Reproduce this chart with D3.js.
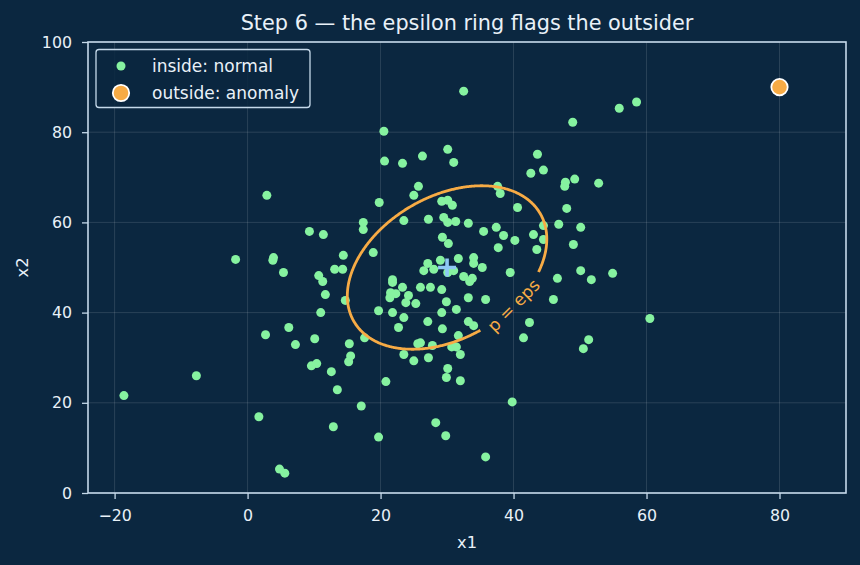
<!DOCTYPE html>
<html><head><meta charset="utf-8">
<script src="https://cdn.jsdelivr.net/npm/d3@7"></script>
<style>
html,body{margin:0;padding:0;background:#0b2740;}
svg{display:block;font-family:"DejaVu Sans",sans-serif;}
</style></head>
<body>
<svg id="chart" width="860" height="565"></svg>
<script>
// ---- data ----
const normalPoints = [[32.5,89.1],[58.5,86.7],[55.9,85.3],[48.9,82.2],[20.5,80.2],[30.1,76.2],[43.6,75.1],[26.3,74.7],[31.0,73.3],[20.6,73.6],[23.3,73.1],[44.5,71.6],[42.6,70.9],[49.2,69.6],[47.8,68.9],[47.7,68.0],[52.8,68.7],[25.7,68.0],[37.6,68.0],[38.0,66.4],[25.0,66.0],[2.9,66.0],[29.2,64.7],[30.1,64.9],[30.8,63.8],[19.8,64.4],[40.6,63.3],[48.0,63.1],[23.5,60.4],[27.2,60.7],[29.5,61.1],[30.1,60.0],[31.3,60.2],[33.2,59.8],[17.4,60.0],[17.4,58.4],[9.3,58.0],[11.4,57.3],[35.5,58.0],[37.4,58.9],[38.5,57.1],[40.2,56.0],[37.7,54.4],[43.0,57.3],[44.5,59.3],[46.8,59.6],[50.1,58.9],[44.5,56.2],[43.5,54.0],[49.0,55.1],[29.3,56.7],[30.2,55.3],[27.1,50.9],[28.0,49.6],[26.5,49.3],[29.0,51.6],[31.7,52.0],[34.0,52.2],[34.0,50.9],[35.3,50.0],[32.5,48.0],[33.8,47.6],[39.5,48.9],[46.6,47.6],[50.1,49.3],[51.7,47.3],[54.9,48.7],[-1.8,51.8],[3.9,52.2],[3.8,51.6],[5.4,48.9],[10.7,48.2],[11.3,46.9],[14.4,52.7],[18.9,53.3],[13.1,49.6],[14.3,49.6],[21.8,47.3],[30.1,48.9],[31.0,49.3],[33.4,46.9],[11.7,44.0],[14.7,42.7],[11.0,40.0],[6.2,36.7],[2.7,35.1],[7.2,32.9],[10.1,34.2],[15.3,33.1],[15.5,30.4],[15.2,29.1],[9.6,28.2],[10.4,28.7],[12.6,26.9],[13.5,22.9],[17.6,34.4],[21.8,46.7],[21.5,44.4],[21.4,43.3],[22.3,44.2],[23.3,45.6],[24.2,43.8],[23.8,42.2],[25.3,42.0],[19.7,40.4],[21.8,40.0],[23.5,38.9],[22.7,36.7],[26.0,45.6],[27.5,45.6],[29.2,45.1],[29.9,42.4],[27.1,38.0],[29.2,40.0],[31.4,40.7],[29.3,36.4],[33.2,43.3],[33.2,38.0],[34.0,37.1],[31.7,34.9],[30.7,32.4],[31.4,32.4],[32.0,30.7],[25.6,33.1],[26.0,33.3],[27.8,32.7],[23.5,30.7],[25.0,29.3],[27.2,30.0],[30.1,27.6],[29.9,25.6],[32.0,24.9],[20.8,24.7],[17.1,19.3],[12.9,14.7],[19.7,12.4],[1.7,16.9],[-7.7,26.0],[-18.6,21.6],[4.8,5.3],[5.6,4.4],[28.3,15.6],[29.8,12.7],[35.8,8.0],[39.8,20.2],[35.8,42.9],[46.0,42.9],[42.4,37.8],[41.5,34.4],[51.3,34.0],[50.5,32.0],[60.5,38.7]];
const anomalyPoint = [80, 90];
const meanPoint = [30, 50];
const ringCov = [[100, 42], [42, 146]];   // covariance of the fitted Gaussian
const ringRadius = 1.5;                   // Mahalanobis radius where p = eps
const ringLabelAt = [40.0, 41.6];
const xTicks = [-20, 0, 20, 40, 60, 80];
const yTicks = [0, 20, 40, 60, 80, 100];
const legendLabels = ["inside: normal", "outside: anomaly"];
const titleText = "Step 6 \u2014 the epsilon ring flags the outsider";

// ---- layout ----
const W = 860, H = 565;
const m = {left: 88, right: 14, top: 42, bottom: 72};
const BG = "#0b2740", FG = "#e9f1f8", SPINE = "#c5d9ea";
const GREEN = "#86f2a0", ORANGE = "#f7ab45", BLUE = "#8ec9f5";

const svg = d3.select("#chart");
svg.append("rect").attr("width", W).attr("height", H).attr("fill", BG);

const x = d3.scaleLinear().domain([-24, 90]).range([m.left, W - m.right]);
const y = d3.scaleLinear().domain([0, 100]).range([H - m.bottom, m.top]);

// grid
const grid = svg.append("g");
grid.selectAll("line.gx").data(xTicks).join("line")
  .attr("x1", d => x(d)).attr("x2", d => x(d))
  .attr("y1", y.range()[1]).attr("y2", y.range()[0])
  .attr("stroke", "#ffffff").attr("stroke-opacity", 0.16).attr("stroke-width", 0.8);
grid.selectAll("line.gy").data(yTicks).join("line")
  .attr("y1", d => y(d)).attr("y2", d => y(d))
  .attr("x1", x.range()[0]).attr("x2", x.range()[1])
  .attr("stroke", "#ffffff").attr("stroke-opacity", 0.16).attr("stroke-width", 0.8);

// axes
const xAxis = svg.append("g").attr("transform", `translate(0,${H - m.bottom})`)
  .call(d3.axisBottom(x).tickValues(xTicks).tickSize(6).tickPadding(11).tickFormat(d => d < 0 ? "\u2212" + Math.abs(d) : d));
const yAxis = svg.append("g").attr("transform", `translate(${m.left},0)`)
  .call(d3.axisLeft(y).tickValues(yTicks).tickSize(6).tickPadding(10));
[xAxis, yAxis].forEach(a => {
  a.select(".domain").remove();
  a.selectAll(".tick line").attr("stroke", SPINE).attr("stroke-width", 1.3);
  a.selectAll(".tick text").attr("fill", FG).attr("font-size", 15.8).attr("font-family", "DejaVu Sans");
});

// points
svg.append("g").selectAll("circle").data(normalPoints).join("circle")
  .attr("cx", d => x(d[0])).attr("cy", d => y(d[1])).attr("r", 4.5)
  .attr("fill", GREEN);

// epsilon ring
const a = ringCov[0][0] * ringRadius ** 2, b = ringCov[0][1] * ringRadius ** 2, dd = ringCov[1][1] * ringRadius ** 2;
const L00 = Math.sqrt(a), L10 = b / L00, L11 = Math.sqrt(dd - L10 * L10);
const ringPts = d3.range(0, 721).map(i => {
  const t = i / 720 * 2 * Math.PI;
  return [meanPoint[0] + L00 * Math.cos(t), meanPoint[1] + L10 * Math.cos(t) + L11 * Math.sin(t)];
});
const lx = x(ringLabelAt[0]), ly = y(ringLabelAt[1]);
const gapR = 41;
svg.append("path")
  .attr("d", d3.line().defined(p => Math.hypot(x(p[0]) - lx, y(p[1]) - ly) > gapR)
    .x(p => x(p[0])).y(p => y(p[1]))(ringPts))
  .attr("fill", "none").attr("stroke", ORANGE).attr("stroke-width", 2.8);
svg.append("text").attr("x", lx).attr("y", ly)
  .attr("transform", `rotate(-45,${lx},${ly})`)
  .attr("text-anchor", "middle").attr("dominant-baseline", "central")
  .attr("fill", ORANGE).attr("font-size", 17).text("p = eps");

// mean plus
const px = x(meanPoint[0]), py = y(meanPoint[1]);
svg.append("path").attr("d", `M${px - 9},${py}H${px + 9}M${px},${py - 9}V${py + 9}`)
  .attr("stroke", BLUE).attr("stroke-width", 3.6).attr("fill", "none");

// anomaly
svg.append("circle").attr("cx", x(anomalyPoint[0])).attr("cy", y(anomalyPoint[1])).attr("r", 8.2)
  .attr("fill", ORANGE).attr("stroke", "#ffffff").attr("stroke-width", 1.8);

// frame
svg.append("rect").attr("x", m.left).attr("y", m.top)
  .attr("width", W - m.left - m.right).attr("height", H - m.top - m.bottom)
  .attr("fill", "none").attr("stroke", SPINE).attr("stroke-width", 1.6);

// title & labels
svg.append("text").attr("x", (m.left + W - m.right) / 2).attr("y", 30)
  .attr("text-anchor", "middle").attr("fill", FG).attr("font-size", 20.8).text(titleText);
svg.append("text").attr("x", (m.left + W - m.right) / 2).attr("y", 548)
  .attr("text-anchor", "middle").attr("fill", FG).attr("font-size", 16.3).text("x1");
svg.append("text").attr("transform", `translate(28,${(m.top + H - m.bottom) / 2}) rotate(-90)`)
  .attr("text-anchor", "middle").attr("fill", FG).attr("font-size", 16.3).text("x2");

// legend
const lg = svg.append("g");
lg.append("rect").attr("x", 96).attr("y", 49.5).attr("width", 214).attr("height", 58).attr("rx", 3)
  .attr("fill", BG).attr("fill-opacity", 0.85).attr("stroke", SPINE).attr("stroke-width", 1.3);
lg.append("circle").attr("cx", 121).attr("cy", 66).attr("r", 4.5).attr("fill", GREEN);
lg.append("circle").attr("cx", 121).attr("cy", 93).attr("r", 8.2).attr("fill", ORANGE)
  .attr("stroke", "#ffffff").attr("stroke-width", 1.8);
lg.selectAll("text").data(legendLabels).join("text")
  .attr("x", 152).attr("y", (d, i) => 66 + i * 27).attr("dominant-baseline", "central")
  .attr("fill", FG).attr("font-size", 17).text(d => d);
</script>
</body></html>
